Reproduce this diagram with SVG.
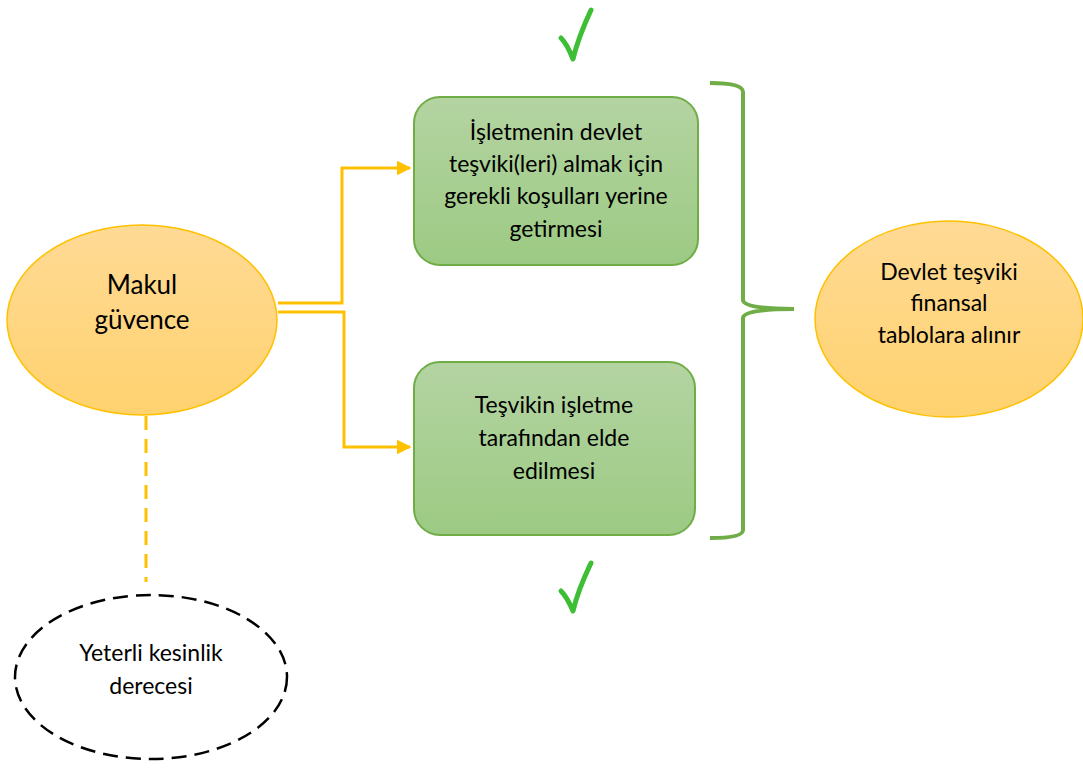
<svg xmlns="http://www.w3.org/2000/svg" width="1083" height="768" viewBox="0 0 1083 768">
<defs>
<linearGradient id="gOr" x1="0" y1="0" x2="0" y2="1"><stop offset="0" stop-color="#FFDA95"/><stop offset="1" stop-color="#FFD26F"/></linearGradient>
<linearGradient id="gGr" x1="0" y1="0" x2="0" y2="1"><stop offset="0" stop-color="#B4D4A2"/><stop offset="1" stop-color="#9CCA83"/></linearGradient>
<marker id="arr" viewBox="0 0 10 10" refX="9" refY="5" markerWidth="5" markerHeight="5" orient="auto" markerUnits="strokeWidth"><path d="M0,0 L10,5 L0,10 Z" fill="#FFC000"/></marker>
</defs>
<style>
.t{font-family:Lato,"Open Sans","Liberation Sans",sans-serif;fill:#000;text-anchor:middle}
.s20{font-size:23px}
.s24{font-size:26px}
.oval{fill:url(#gOr);stroke:#FFC000;stroke-width:1.5}
.box{fill:url(#gGr);stroke:#70AD47;stroke-width:2}
.con{fill:none;stroke:#FFC000;stroke-width:3}
.chk{fill:none;stroke:#3DBE35;stroke-width:5;stroke-linecap:round;stroke-linejoin:round}
</style>
<g id="connectors">
<path class="con" d="M278,303 H342 V168 H410" marker-end="url(#arr)"/>
<path class="con" d="M278,312 H344 V447 H410" marker-end="url(#arr)"/>
<path class="con" d="M146,416 V582" stroke-dasharray="14,9"/>
<path d="M710,83 Q743,83 743,92 V300 Q743,309 794,309 Q743,309 743,318 V530 Q743,538 710,538" fill="none" stroke="#70AD47" stroke-width="4"/>
</g>
<g id="makul">
<ellipse class="oval" cx="142" cy="320" rx="135" ry="95"/>
<text class="t s24" x="142" y="294">Makul</text>
<text class="t s24" x="142" y="329">güvence</text>
</g>
<g id="yeterli">
<ellipse cx="151" cy="677" rx="136" ry="82" fill="#fff" stroke="#000" stroke-width="2.5" stroke-dasharray="15,8"/>
<text class="t s20" x="151" y="661">Yeterli kesinlik</text>
<text class="t s20" x="151" y="694">derecesi</text>
</g>
<g id="box1">
<rect class="box" x="414" y="97" width="284" height="168" rx="26"/>
<text class="t s20" x="556" y="140">İşletmenin devlet</text>
<text class="t s20" x="556" y="172">teşviki(leri) almak için</text>
<text class="t s20" x="556" y="204">gerekli koşulları yerine</text>
<text class="t s20" x="556" y="237">getirmesi</text>
</g>
<g id="box2">
<rect class="box" x="414" y="362" width="281" height="173" rx="26"/>
<text class="t s20" x="554" y="413">Teşvikin işletme</text>
<text class="t s20" x="554" y="446">tarafından elde</text>
<text class="t s20" x="554" y="479">edilmesi</text>
</g>
<g id="devlet">
<ellipse class="oval" cx="949" cy="319" rx="134" ry="98"/>
<text class="t s20" x="949" y="280">Devlet teşviki</text>
<text class="t s20" x="949" y="311">finansal</text>
<text class="t s20" x="949" y="343">tablolara alınır</text>
</g>
<g id="checks">
<path class="chk" d="M561,38 Q567,44 573,59 Q578,38 591,10"/>
<path class="chk" d="M561,591 Q567,597 573,611 Q578,590 591,563"/>
</g>
</svg>
